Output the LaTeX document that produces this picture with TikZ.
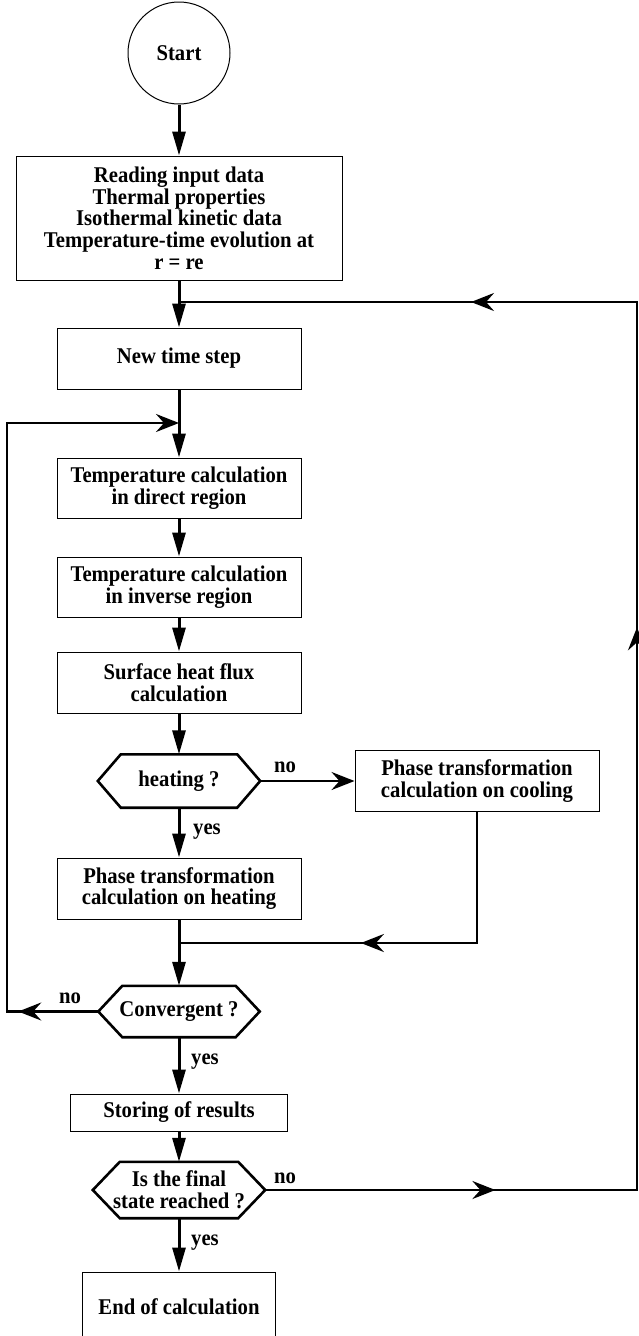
\documentclass[tikz,border=0pt]{standalone}
\usepackage{fontspec}
\setmainfont[FakeStretch=0.92]{Liberation Serif}
\usetikzlibrary{arrows.meta,decorations.markings}
\newcommand{\flowfont}{\bfseries\fontsize{22.5}{21.7}\selectfont\lineskiplimit=-20pt\lineskip=0pt}
\newcommand{\hexframe}[2]{%
  \draw[hexline] (#1.west) -- ([xshift=#2]#1.north west) -- ([xshift=-#2]#1.north east)
    -- (#1.east) -- ([xshift=-#2]#1.south east) -- ([xshift=#2]#1.south west) -- cycle;}
\tikzset{
  box/.style={draw,line width=1pt,inner sep=0pt,align=center,font=\flowfont},
  hexa/.style={inner sep=0pt,align=center,font=\flowfont},
  hexline/.style={line width=2.6pt,line join=miter},
  lab/.style={inner sep=0pt,font=\flowfont},
  flow/.style={line width=3pt,-{Triangle[length=24pt,width=13pt]}},
  back/.style={line width=2.6pt,line join=miter},
  loophead/.tip={Stealth[length=23pt,width=18pt,inset=8pt]},
}
\begin{document}
\begin{tikzpicture}[x=1pt,y=-1pt]
\useasboundingbox (0,0) rectangle (639,1336);
% main column
\node[circle,draw,line width=1pt,minimum size=102pt,inner sep=0pt,font=\flowfont] (start) at (179,53) {Start};
\node[box,minimum width=326pt,minimum height=124pt] (input) at (179,218)
  {Reading input data\\Thermal properties\\Isothermal kinetic data\\Temperature-time evolution at\\r = re};
\node[box,minimum width=244pt,minimum height=61pt] (newstep) at (179,358.5) {New time step};
\node[box,minimum width=244pt,minimum height=60pt] (tdirect) at (179,488) {Temperature calculation\\in direct region};
\node[box,minimum width=244pt,minimum height=60pt] (tinverse) at (179,587) {Temperature calculation\\in inverse region};
\node[box,minimum width=244pt,minimum height=61pt] (flux) at (179,682.5) {Surface heat flux\\calculation};
\node[hexa,minimum width=162pt,minimum height=53pt] (heating) at (179,781) {heating ?};
\node[box,minimum width=244pt,minimum height=61pt] (heatbox) at (179,888.5) {Phase transformation\\calculation on heating};
\node[box,minimum width=244pt,minimum height=61pt] (coolbox) at (477,781) {Phase transformation\\calculation on cooling};
\node[hexa,minimum width=161pt,minimum height=51pt] (conv) at (179,1011.5) {Convergent ?};
\node[box,minimum width=217pt,minimum height=37pt] (store) at (179,1112.5) {Storing of results};
\node[hexa,minimum width=172pt,minimum height=56pt] (final) at (179,1190) {Is the final\\state reached ?};
\node[box,minimum width=193pt,minimum height=70pt] (endcalc) at (179,1307) {End of calculation};
\hexframe{heating}{23pt}
\hexframe{conv}{24pt}
\hexframe{final}{27pt}
% branch labels
\node[lab] (noheat) at (285,767) {no};
\node[lab] (yesheat) at (207,832) {yes};
\node[lab] (noconv) at (70,998) {no};
\node[lab] (yesconv) at (205,1062) {yes};
\node[lab] (nofinal) at (285,1178) {no};
\node[lab] (yesfinal) at (205,1243) {yes};
% corners of the return lines
\coordinate (jtop) at (179,302);
\coordinate (jleft) at (179,423);
\coordinate (jcool) at (179,943);
\coordinate (rb) at (637,1190);
\coordinate (rt) at (637,302);
\coordinate (lb) at (7,1011.5);
\coordinate (lt) at (7,423);
\coordinate (cb) at (477,943);
% flow
\draw[flow] (start) -- (input);
\draw[flow] (input) -- (newstep);
\draw[flow] (newstep) -- (tdirect);
\draw[flow] (tdirect) -- (tinverse);
\draw[flow] (tinverse) -- (flux);
\draw[flow] (flux) -- (heating);
\draw[flow] (heating) -- (heatbox);
\draw[flow] (heatbox) -- (conv);
\draw[flow] (conv) -- (store);
\draw[flow] (store) -- (final);
\draw[flow] (final) -- (endcalc);
\draw[back,-{loophead}] (heating.east) -- (coolbox.west);
\draw[back,postaction={decorate},decoration={markings,mark=at position 0.576 with {\arrow{loophead}}}]
  (coolbox.south) -- (cb) -- (jcool);
\draw[back,-{loophead},postaction={decorate},decoration={markings,mark=at position 0.094 with {\arrow{loophead}}}]
  (conv.west) -- (lb) -- (lt) -- (jleft);
\draw[back,postaction={decorate},decoration={markings,
    mark=at position 0.134 with {\arrow{loophead}},
    mark=at position 0.544 with {\arrow{loophead}},
    mark=at position 0.830 with {\arrow{loophead}}}]
  (final.east) -- (rb) -- (rt) -- (jtop);
\end{tikzpicture}
\end{document}
